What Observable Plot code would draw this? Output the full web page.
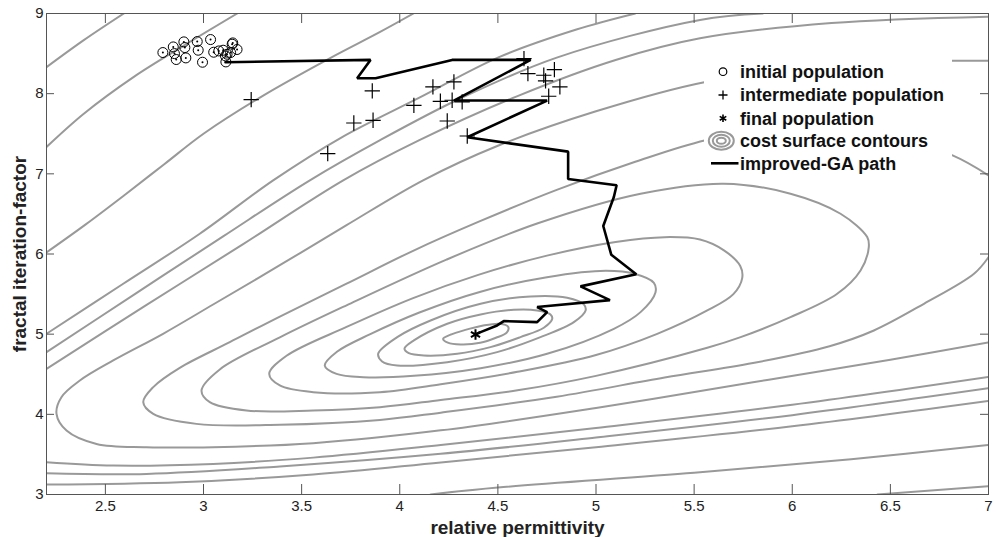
<!DOCTYPE html>
<html><head><meta charset="utf-8">
<script src="https://cdn.jsdelivr.net/npm/d3@7"></script>
<script src="https://cdn.jsdelivr.net/npm/@observablehq/plot@0.6"></script>
<style>
html,body{margin:0;padding:0;background:#fff;}
#chart{width:997px;height:537px;}
</style></head><body><div id="chart"></div>
<script>
// ---- axes ----
const xTicks = [2.5, 3, 3.5, 4, 4.5, 5, 5.5, 6, 6.5, 7];
const yTicks = [3, 4, 5, 6, 7, 8, 9];
const xLabel = "relative permittivity";
const yLabel = "fractal iteration-factor";
const legendLabels = ["initial population", "intermediate population", "final population", "cost surface contours", "improved-GA path"];

// ---- populations ----
const initialX = [2.793, 2.846, 2.861, 2.852, 2.900, 2.910, 2.968, 2.973, 2.995, 3.036, 3.052, 3.078, 3.100, 3.120, 3.149, 3.171, 3.114, 2.905, 3.112, 3.138, 3.146];
const initialY = [8.513, 8.583, 8.426, 8.500, 8.646, 8.446, 8.650, 8.542, 8.392, 8.675, 8.517, 8.533, 8.542, 8.492, 8.633, 8.551, 8.396, 8.575, 8.471, 8.513, 8.617];
const interX = [3.243, 3.860, 3.864, 3.766, 3.633, 4.072, 4.169, 4.207, 4.276, 4.267, 4.318, 4.242, 4.344, 4.633, 4.653, 4.734, 4.788, 4.743, 4.816, 4.759];
const interY = [7.926, 8.034, 7.668, 7.634, 7.252, 7.855, 8.084, 7.905, 8.146, 7.918, 7.897, 7.659, 7.472, 8.438, 8.251, 8.230, 8.301, 8.159, 8.084, 7.968];
const finalX = [4.386];
const finalY = [4.995];

// ---- improved-GA path ----
const pathX = [3.112, 3.851, 3.783, 3.877, 4.267, 4.667, 4.276, 4.751, 4.344, 4.858, 4.858, 5.105, 5.091, 5.037, 5.078, 5.205, 4.921, 5.071, 4.700, 4.751, 4.700, 4.530, 4.496, 4.412, 4.386];
const pathY = [8.392, 8.421, 8.193, 8.193, 8.421, 8.421, 7.914, 7.914, 7.456, 7.277, 6.936, 6.857, 6.711, 6.349, 5.990, 5.748, 5.596, 5.425, 5.338, 5.275, 5.150, 5.163, 5.109, 5.026, 4.995];

// ---- cost surface contours ----
const contourE1 = [[4.221,4.942],[4.26,4.995],[4.33,5.05],[4.42,5.105],[4.51,5.13],[4.553,5.09],[4.545,5.02],[4.49,4.955],[4.41,4.892],[4.31,4.872],[4.245,4.895]];
const contourE2 = [[4.024,4.818],[4.072,4.922],[4.242,5.130],[4.412,5.246],[4.581,5.304],[4.700,5.296],[4.768,5.246],[4.777,5.192],[4.734,5.080],[4.615,4.963],[4.462,4.838],[4.293,4.755],[4.123,4.734],[4.046,4.763]];
const contourE3 = [[3.890,4.755],[3.987,4.963],[4.157,5.171],[4.412,5.379],[4.666,5.471],[4.853,5.454],[4.938,5.371],[4.947,5.296],[4.887,5.150],[4.717,4.963],[4.496,4.776],[4.242,4.651],[3.987,4.609],[3.91,4.66]];
const contourE4 = [[3.618,4.609],[3.68,4.78],[3.85,5.0],[4.1,5.27],[4.412,5.53],[4.75,5.71],[5.05,5.79],[5.2,5.75],[5.295,5.64],[5.303,5.52],[5.227,5.275],[5.091,5.067],[4.751,4.755],[4.412,4.575],[4.072,4.48],[3.814,4.464],[3.678,4.505]];
const contourE5 = [[3.335,4.505],[3.423,4.73],[3.729,5.09],[4.068,5.45],[4.4,5.74],[4.75,5.98],[5.1,6.15],[5.35,6.21],[5.53,6.18],[5.652,6.045],[5.735,5.85],[5.745,5.70],[5.700,5.50],[5.567,5.296],[5.312,5.004],[5.0,4.74],[4.6,4.53],[4.209,4.375],[3.899,4.276],[3.559,4.276],[3.389,4.360]];
const contourE6 = [[2.990,4.297],[3.083,4.56],[3.389,4.96],[3.729,5.36],[4.238,5.93],[4.7,6.38],[5.227,6.752],[5.652,6.877],[5.991,6.752],[6.246,6.502],[6.382,6.211],[6.390,6.086],[6.348,5.795],[6.229,5.504],[5.991,5.212],[5.737,4.963],[5.567,4.83],[5.0,4.48],[4.6,4.3],[4.209,4.179],[3.899,4.089],[3.559,4.048],[3.219,4.048],[3.032,4.152]];
const contourE7 = [[7.0,6.98],[6.817,7.23],[6.4,7.55],[6.0,7.6],[5.558,7.42],[5.2,7.15],[4.8,6.8],[4.4,6.4],[4.068,6.04],[3.729,5.63],[3.389,5.22],[3.134,4.9],[2.879,4.58],[2.744,4.34],[2.693,4.152],[2.744,4.006],[2.964,3.881],[3.389,3.87],[3.899,3.93],[4.209,4.021],[4.8,4.22],[5.35,4.46],[5.8,4.64],[6.19,4.85],[6.416,5.046],[6.671,5.379],[6.926,5.753],[7.0,5.96]];
const contourE8 = [[7.0,8.41],[6.817,8.41],[6.2,8.35],[5.558,8.146],[5.0,7.78],[4.5,7.35],[4.119,6.919],[3.729,6.36],[3.389,5.86],[3.049,5.37],[2.794,5.005],[2.540,4.672],[2.370,4.422],[2.276,4.214],[2.251,4.006],[2.302,3.798],[2.455,3.631],[2.71,3.59],[3.049,3.59],[3.559,3.64],[4.209,3.80],[5.0,4.08],[5.8,4.4],[6.5,4.68],[7.0,4.896]];
const contourC4upper = [[7.0,8.96],[6.2,8.88],[5.53,8.69],[5.1,8.42],[4.6,7.97],[4.1,7.42],[3.712,6.919],[3.2,6.12],[2.7,5.35],[2.2,4.568]];
const contourC4lower = [[2.2,3.403],[2.54,3.361],[3.049,3.382],[3.559,3.46],[4.209,3.617],[5.0,3.83],[6.0,4.12],[7.0,4.467]];
const contourC3upper = [[5.85,9.0],[5.53,8.92],[4.8,8.45],[4.3,7.93],[3.9,7.42],[3.542,6.919],[3.1,6.22],[2.65,5.50],[2.2,4.776]];
const contourC3lower = [[2.2,3.265],[2.71,3.257],[3.389,3.35],[4.209,3.508],[5.0,3.71],[6.0,3.99],[7.0,4.325]];
const contourC2upper = [[5.2,9.0],[4.9,8.8],[4.5,8.45],[4.1,7.95],[3.7,7.45],[3.355,6.919],[2.981,6.253],[2.591,5.629],[2.2,5.005]];
const contourC2lower = [[2.2,3.124],[2.879,3.153],[3.559,3.25],[4.209,3.40],[5.0,3.59],[6.0,3.85],[7.0,4.167]];
const contourC1upper = [[2.2,6.02],[2.4,6.37],[2.6,6.74],[2.8,7.12],[3.0,7.5],[3.3,7.97],[3.65,8.45],[3.9,8.77],[4.07,9.0]];
const contourC1lower = [[4.157,3.0],[4.5,3.087],[5.5,3.27],[6.3,3.44],[7.0,3.617]];
const contourBupper = [[2.2,7.335],[2.39,7.75],[2.645,8.21],[2.9,8.60],[3.172,9.0]];
const contourBlower = [[6.434,3.0],[7.0,3.104]];
const contourA = [[2.2,8.33],[2.39,8.667],[2.594,9.0]];

// ---- tables built from the arrays ----
const closedContours = {E1: contourE1, E2: contourE2, E3: contourE3, E4: contourE4, E5: contourE5, E6: contourE6};
const openContours = {E7: contourE7, E8: contourE8, C4u: contourC4upper, C4l: contourC4lower, C3u: contourC3upper, C3l: contourC3lower,
  C2u: contourC2upper, C2l: contourC2lower, C1u: contourC1upper, C1l: contourC1lower, Bu: contourBupper, Bl: contourBlower, A: contourA};
const toRows = (obj) => Object.entries(obj).flatMap(([id, pts]) => pts.map(([x, y]) => ({id, x, y})));
const closedRows = toRows(closedContours);
const openRows = toRows(openContours);
const zipXY = (xs, ys) => xs.map((x, i) => ({x, y: ys[i]}));
const initialRows = zipXY(initialX, initialY);
const interRows = zipXY(interX, interY);
const finalRows = zipXY(finalX, finalY);
const pathRows = zipXY(pathX, pathY);

const FONT = "'Liberation Sans', Arial, Helvetica, sans-serif";
const gray = "#999999";
const axisColor = "#555555";
const fmt = d => String(d);

const plot = Plot.plot({
  width: 997, height: 537,
  marginLeft: 46, marginRight: 9, marginTop: 13, marginBottom: 43,
  x: {domain: [2.2, 7]},
  y: {domain: [3, 9]},
  style: {fontFamily: FONT, background: "white", color: "black", overflow: "visible"},
  marks: [
    Plot.line(openRows, {x: "x", y: "y", z: "id", curve: "catmull-rom", stroke: gray, strokeWidth: 2, clip: true}),
    Plot.line(closedRows, {x: "x", y: "y", z: "id", curve: "catmull-rom-closed", stroke: gray, strokeWidth: 2, clip: true}),
    Plot.line(pathRows, {x: "x", y: "y", stroke: "black", strokeWidth: 2.6, strokeLinejoin: "miter"}),
    Plot.dot(initialRows, {x: "x", y: "y", r: 5, stroke: "black", strokeWidth: 1, fill: "none"}),
    Plot.dot(initialRows, {x: "x", y: "y", r: 1, fill: "black", stroke: "none"}),
    Plot.dot(interRows, {x: "x", y: "y", symbol: "plus", r: 5, stroke: "black", strokeWidth: 1.2, fill: "none"}),
    Plot.dot(finalRows, {x: "x", y: "y", symbol: "asterisk", r: 5, stroke: "black", strokeWidth: 2, fill: "none"}),
    Plot.frame({stroke: axisColor, strokeWidth: 1}),
    Plot.tickX(xTicks, {x: d => d, insetTop: 471, stroke: axisColor}),
    Plot.tickX(xTicks, {x: d => d, insetBottom: 471, stroke: axisColor}),
    Plot.tickY(yTicks, {y: d => d, insetRight: 934, stroke: axisColor}),
    Plot.tickY(yTicks, {y: d => d, insetLeft: 934, stroke: axisColor}),
    Plot.axisX(xTicks, {tickSize: 0, tickPadding: 6, fontSize: 15, label: null, tickFormat: fmt, fill: "#222"}),
    Plot.axisY(yTicks, {tickSize: 0, tickPadding: 3, fontSize: 15, label: null, tickFormat: fmt, fill: "#222"}),
    Plot.text([xLabel], {frameAnchor: "bottom", textAnchor: "middle", lineAnchor: "middle", dy: 33, fontSize: 19, fontWeight: "bold", fill: "#222"}),
    Plot.text([yLabel], {frameAnchor: "left", textAnchor: "middle", lineAnchor: "middle", dx: -27, rotate: -90, fontSize: 19, fontWeight: "bold", fill: "#222"})
  ]
});

// ---- legend (inside the plot, white box) ----
const svg = d3.select(plot);
const lg = svg.append("g").attr("font-family", FONT).attr("font-weight", "bold").attr("font-size", 18).attr("fill", "#111").attr("text-anchor", "start");
lg.append("rect").attr("x", 704).attr("y", 48).attr("width", 248).attr("height", 131).attr("fill", "white");
const rowY = [71.7, 95, 118.3, 140.7, 163.3];
const mx = 723;
lg.append("circle").attr("cx", mx).attr("cy", rowY[0]).attr("r", 3.8).attr("fill", "none").attr("stroke", "black").attr("stroke-width", 1.2);
lg.append("path").attr("d", `M${mx - 4.5},${rowY[1]}h9M${mx},${rowY[1] - 4.5}v9`).attr("stroke", "black").attr("stroke-width", 1.3).attr("fill", "none");
lg.append("path").attr("transform", `translate(${mx},${rowY[2]})`).attr("d", d3.symbol(d3.symbolAsterisk, 40)()).attr("stroke", "black").attr("stroke-width", 1.6).attr("fill", "none");
[[12.5, 9], [8.5, 6], [4.5, 3]].forEach(([rx, ry]) =>
  lg.append("ellipse").attr("cx", 721.3).attr("cy", rowY[3]).attr("rx", rx).attr("ry", ry).attr("fill", "none").attr("stroke", gray).attr("stroke-width", 2));
lg.append("line").attr("x1", 711).attr("x2", 738.5).attr("y1", rowY[4]).attr("y2", rowY[4]).attr("stroke", "black").attr("stroke-width", 2.6);
legendLabels.forEach((t, i) => lg.append("text").attr("x", 740).attr("y", rowY[i] + 6.4).attr("text-anchor", "start").text(t));

document.getElementById("chart").appendChild(plot);
</script>
</body></html>
